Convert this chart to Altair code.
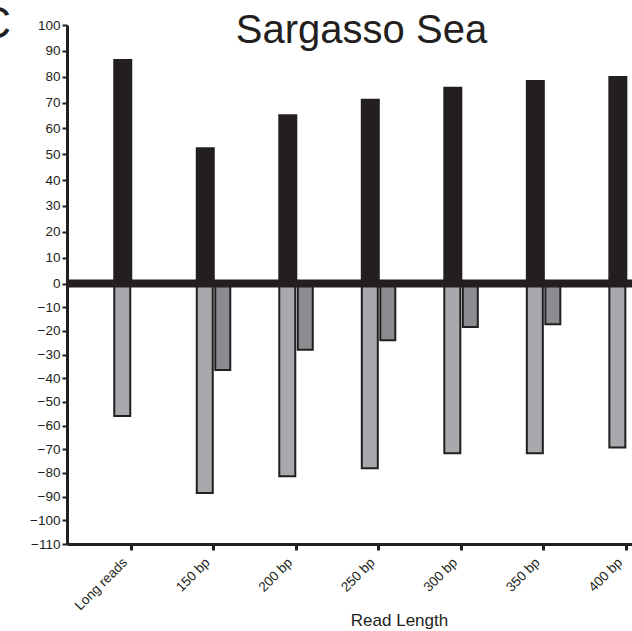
import altair as alt
import pandas as pd

labels = ["Long reads", "150 bp", "200 bp", "250 bp", "300 bp", "350 bp", "400 bp"]
black_vals = [86.8, 52.7, 65.5, 71.5, 76.1, 78.7, 80.3]
light_vals = [-56, -88.5, -81.4, -78, -71.7, -71.7, -69.3]
dark_vals = [None, -36.5, -28, -24, -18.4, -17.2, None]
y_ticks = list(range(-110, 101, 10))

df = pd.DataFrame({
    "idx": list(range(len(labels))),
    "label": labels,
    "black": black_vals,
    "light": light_vals,
    "dark": dark_vals,
})

FONT = "Liberation Sans"
INK = "#231F20"
LIGHT = "#A7A9AC"
DARK = "#8A8C8F"

W, H = 565, 519

xscale = alt.Scale(domain=[-0.712, 6.014], nice=False, zero=False)
yscale = alt.Scale(domain=[-110, 0, 100], range=[H, 258.5, 0], nice=False, zero=False)

label_arr = "[" + ",".join("'" + l + "'" for l in labels) + "]"
xaxis = alt.Axis(
    values=list(range(len(labels))),
    labelExpr=label_arr + "[datum.value]",
    labelAngle=-45, labelAlign="right", labelBaseline="middle",
    labelFont=FONT, labelFontSize=13.5, labelColor=INK, labelPadding=10, labelOffset=-6,
    tickSize=6, tickWidth=3, tickColor=INK, tickCount=20,
    domainWidth=3, domainColor=INK, grid=False, labelOverlap=False,
    title="Read Length", titleFont=FONT, titleFontSize=17, titleFontWeight="normal",
    titleColor=INK, titleX=332, titleY=81, titleAlign="center", titleBaseline="alphabetic",
    titleAnchor="start",
)
yaxis = alt.Axis(
    values=y_ticks, tickCount=40, labelFont=FONT, labelFontSize=13.5, labelColor=INK,
    labelPadding=2, tickSize=5, tickWidth=2, tickColor=INK, domainWidth=3, domainColor=INK,
    grid=False, title=None, labelOverlap=False,
)

base = alt.Chart(df)

black = base.mark_bar(color=INK, width=19, xOffset=-8).encode(
    x=alt.X("idx:Q", scale=xscale, axis=xaxis),
    y=alt.Y("black:Q", scale=yscale, axis=yaxis),
)
light = base.mark_bar(fill=LIGHT, stroke=INK, strokeWidth=2, width=16, xOffset=-8.5).encode(
    x=alt.X("idx:Q", scale=xscale),
    y=alt.Y("light:Q", scale=yscale),
)
dark = base.transform_filter("isValid(datum.dark)").mark_bar(
    fill=DARK, stroke=INK, strokeWidth=2, width=15, xOffset=9.5
).encode(
    x=alt.X("idx:Q", scale=xscale),
    y=alt.Y("dark:Q", scale=yscale),
)
zero = alt.Chart(pd.DataFrame({"z": [0]})).mark_rule(color=INK, strokeWidth=8).encode(
    y=alt.Y("z:Q", scale=yscale)
)
title = alt.Chart(pd.DataFrame({"t": ["Sargasso Sea"]})).mark_text(
    font=FONT, fontSize=40, color=INK, align="center", baseline="alphabetic"
).encode(text="t:N", x=alt.value(294.5), y=alt.value(18))
panel = alt.Chart(pd.DataFrame({"t": ["C"]})).mark_text(
    font=FONT, fontSize=44, color=INK, align="right", baseline="alphabetic"
).encode(text="t:N", x=alt.value(-56), y=alt.value(13))

chart = alt.layer(light, dark, black, zero, title, panel).properties(
    width=W, height=H,
    autosize=alt.AutoSizeParams(type="none"),
    padding={"left": 67, "top": 25, "right": 0, "bottom": 87},
    background="white",
).configure_view(stroke=None)

chart.save("out.html", embed_options={"renderer": "svg", "actions": False})
